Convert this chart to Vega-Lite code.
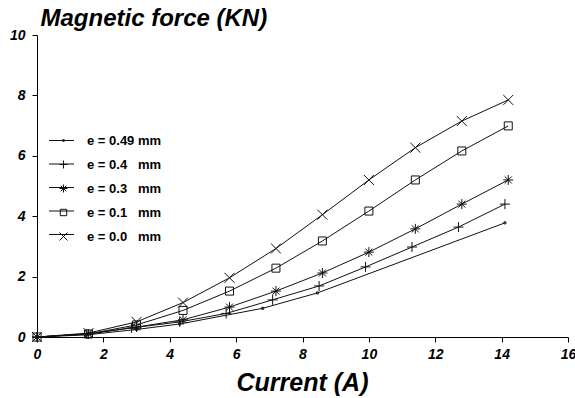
{
  "$schema": "https://vega.github.io/schema/vega-lite/v6.json",
  "width": 531,
  "height": 302,
  "autosize": "none",
  "padding": {"left": 37, "top": 35, "right": 7, "bottom": 61},
  "background": "white",
  "config": {"view": {"stroke": null}, "font": "Liberation Sans"},
  "data": {
    "values": [
      {"e": "0.0", "I": 0, "F": 0},
      {"e": "0.0", "I": 1.55, "F": 0.13},
      {"e": "0.0", "I": 3.0, "F": 0.5},
      {"e": "0.0", "I": 4.4, "F": 1.14},
      {"e": "0.0", "I": 5.8, "F": 1.96},
      {"e": "0.0", "I": 7.2, "F": 2.93},
      {"e": "0.0", "I": 8.6, "F": 4.05},
      {"e": "0.0", "I": 10.0, "F": 5.2},
      {"e": "0.0", "I": 11.4, "F": 6.27},
      {"e": "0.0", "I": 12.8, "F": 7.15},
      {"e": "0.0", "I": 14.2, "F": 7.85},
      {"e": "0.1", "I": 0, "F": 0},
      {"e": "0.1", "I": 1.55, "F": 0.1},
      {"e": "0.1", "I": 3.0, "F": 0.4},
      {"e": "0.1", "I": 4.4, "F": 0.88},
      {"e": "0.1", "I": 5.8, "F": 1.52},
      {"e": "0.1", "I": 7.2, "F": 2.28},
      {"e": "0.1", "I": 8.6, "F": 3.18},
      {"e": "0.1", "I": 10.0, "F": 4.17},
      {"e": "0.1", "I": 11.4, "F": 5.2},
      {"e": "0.1", "I": 12.8, "F": 6.16},
      {"e": "0.1", "I": 14.2, "F": 6.99},
      {"e": "0.3", "I": 0, "F": 0},
      {"e": "0.3", "I": 1.55, "F": 0.1},
      {"e": "0.3", "I": 3.0, "F": 0.33},
      {"e": "0.3", "I": 4.4, "F": 0.57},
      {"e": "0.3", "I": 5.8, "F": 0.99},
      {"e": "0.3", "I": 7.2, "F": 1.52},
      {"e": "0.3", "I": 8.6, "F": 2.12},
      {"e": "0.3", "I": 10.0, "F": 2.81},
      {"e": "0.3", "I": 11.4, "F": 3.58},
      {"e": "0.3", "I": 12.8, "F": 4.4},
      {"e": "0.3", "I": 14.2, "F": 5.2},
      {"e": "0.4", "I": 0, "F": 0},
      {"e": "0.4", "I": 1.5, "F": 0.1},
      {"e": "0.4", "I": 2.85, "F": 0.3},
      {"e": "0.4", "I": 4.3, "F": 0.5},
      {"e": "0.4", "I": 5.7, "F": 0.78},
      {"e": "0.4", "I": 7.1, "F": 1.23},
      {"e": "0.4", "I": 8.5, "F": 1.69},
      {"e": "0.4", "I": 9.9, "F": 2.32},
      {"e": "0.4", "I": 11.3, "F": 2.98},
      {"e": "0.4", "I": 12.7, "F": 3.64},
      {"e": "0.4", "I": 14.1, "F": 4.4},
      {"e": "0.49", "I": 0, "F": 0},
      {"e": "0.49", "I": 1.5, "F": 0.07},
      {"e": "0.49", "I": 3.0, "F": 0.25},
      {"e": "0.49", "I": 4.3, "F": 0.43},
      {"e": "0.49", "I": 6.8, "F": 0.95},
      {"e": "0.49", "I": 8.45, "F": 1.46},
      {"e": "0.49", "I": 14.1, "F": 3.78}
    ]
  },
  "encoding": {
    "x": {
      "field": "I", "type": "quantitative",
      "scale": {"domain": [0, 16], "nice": false, "zero": false},
      "axis": {
        "title": "Current (A)", "values": [0, 2, 4, 6, 8, 10, 12, 14, 16],
        "grid": false, "tickSize": 5, "tickColor": "black", "domainColor": "black",
        "labelFont": "Liberation Sans", "labelFontSize": 14, "labelFontStyle": "italic",
        "labelFontWeight": "bold", "labelColor": "black", "labelPadding": 5, "labelFlush": false,
        "titleFont": "Liberation Sans", "titleFontSize": 25, "titleFontStyle": "italic",
        "titleFontWeight": "bold", "titleColor": "black", "titleX": 265, "titleY": 53,
        "titleBaseline": "alphabetic", "titleAlign": "center"
      }
    },
    "y": {
      "field": "F", "type": "quantitative",
      "scale": {"domain": [0, 10], "nice": false},
      "axis": {
        "title": "Magnetic force (KN)", "values": [0, 2, 4, 6, 8, 10],
        "grid": false, "tickSize": 5, "tickColor": "black", "domainColor": "black",
        "labelFont": "Liberation Sans", "labelFontSize": 14, "labelFontStyle": "italic",
        "labelFontWeight": "bold", "labelColor": "black", "labelPadding": 7, "labelFlush": false,
        "titleFont": "Liberation Sans", "titleFontSize": 24, "titleFontStyle": "italic",
        "titleFontWeight": "bold", "titleColor": "black", "titleAngle": 0, "titleX": 3,
        "titleY": -10, "titleAlign": "left", "titleBaseline": "alphabetic"
      }
    }
  },
  "layer": [
    {
      "mark": {"type": "line", "strokeWidth": 1},
      "encoding": {
        "color": {
          "field": "e", "type": "nominal", "sort": "descending",
          "scale": {"range": ["#111", "#111", "#111", "#111", "#111"]},
          "legend": {
            "title": null, "orient": "none", "legendX": 11.5, "legendY": 92.5,
            "symbolType": "stroke", "symbolSize": 625, "symbolStrokeWidth": 1,
            "symbolStrokeColor": "#111", "labelExpr": "''", "rowPadding": 5.5
          }
        }
      }
    },
    {
      "mark": {"type": "point", "filled": false, "stroke": "#111", "strokeWidth": 1, "opacity": 1, "size": 100},
      "encoding": {
        "shape": {
          "field": "e", "type": "nominal",
          "scale": {
            "domain": ["0.49", "0.4", "0.3", "0.1", "0.0"],
            "range": [
              "M-0.2,-0.2L0.2,-0.2L0.2,0.2L-0.2,0.2Z",
              "M-1,0L1,0M0,-1L0,1",
              "M-1,0L1,0M0,-1L0,1M-0.7,-0.7L0.7,0.7M-0.7,0.7L0.7,-0.7",
              "M-0.8,-0.8L0.8,-0.8L0.8,0.8L-0.8,0.8Z",
              "M-1,-1L1,1M-1,1L1,-1"
            ]
          },
          "legend": {
            "title": null, "orient": "none", "legendX": 20, "legendY": 99,
            "labelExpr": "datum.label == '0.49' ? 'e = 0.49 mm' : 'e = ' + datum.label + '\u00a0\u00a0\u00a0mm'",
            "labelFont": "Liberation Sans", "labelFontSize": 13, "labelFontWeight": "bold",
            "labelColor": "black", "rowPadding": 10, "labelOffset": 17, "symbolSize": 64,
            "symbolStrokeColor": "#111", "symbolStrokeWidth": 1, "symbolFillColor": "white"
          }
        }
      }
    }
  ]
}
